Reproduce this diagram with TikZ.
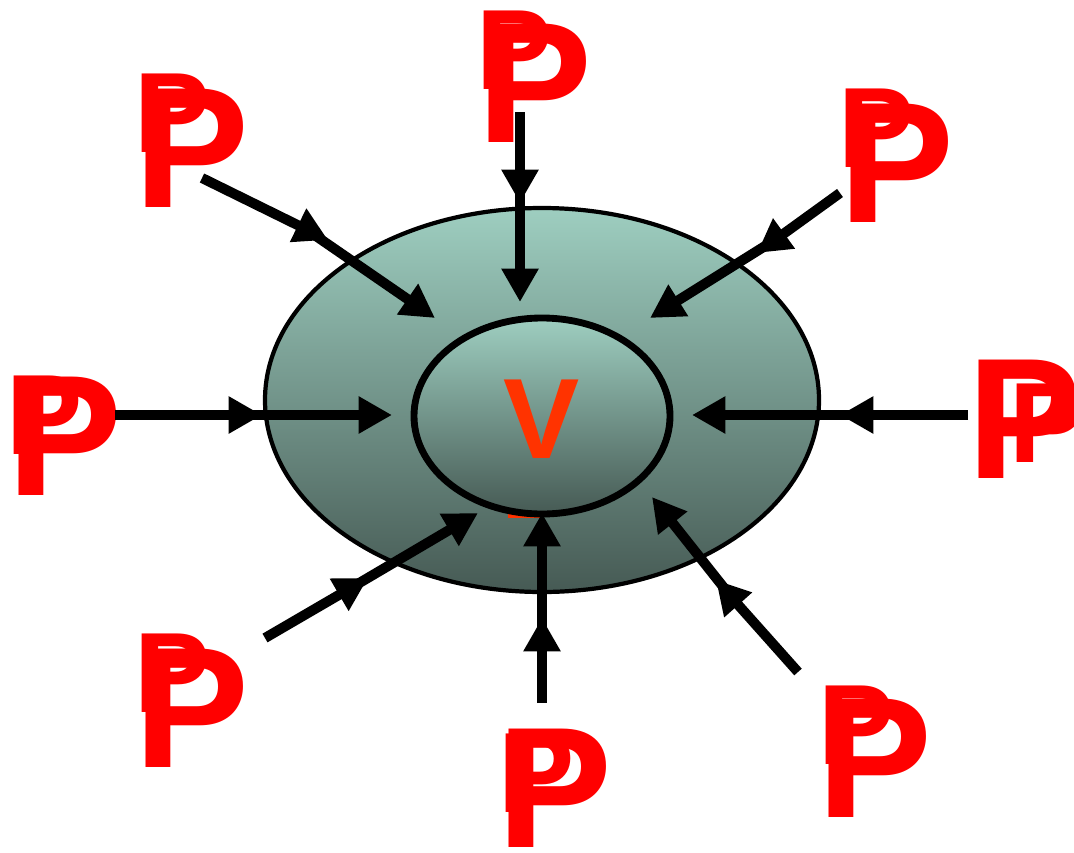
\documentclass[tikz,border=0pt]{standalone}
\usepackage{fontspec}
\setmainfont{Liberation Sans}
\usetikzlibrary{arrows.meta,calc}

\definecolor{tealtop}{RGB}{158,206,192}
\definecolor{tealbot}{RGB}{70,90,84}
\definecolor{pred}{RGB}{255,0,0}
\definecolor{vred}{RGB}{255,51,0}

\begin{document}
\begin{tikzpicture}[x=0.02cm, y=-0.02cm,
  force/.style={line width=5.7pt, -{Triangle[length=19pt,width=20pt]}},
  bigP/.style={anchor=base west, inner sep=0pt, text=pred, font=\fontsize{98}{98}\selectfont\bfseries},
  smallP/.style={anchor=base west, inner sep=0pt, text=pred, font=\fontsize{65}{65}\selectfont\bfseries}]

\useasboundingbox (0,0) rectangle (1074,852);

% outer volume
\shadedraw[top color=tealtop, bottom color=tealbot, draw=black, line width=2.4pt] (542,400) ellipse [x radius=277, y radius=192];

\fill[vred] (508,500) rectangle (541,518);

% inner volume
\shadedraw[top color=tealtop, bottom color=tealbot, draw=black, line width=3.9pt] (542,416) ellipse [x radius=128, y radius=98];
\node[anchor=base, inner sep=0pt, text=vred, font=\fontsize{65}{65}\selectfont\bfseries] (v) at (542,458) {V};

% pressure labels
\node[smallP] (ptls) at (134.6,152) {P};
\node[bigP] (ptl) at (134.4,207) {P};
\node[smallP] (pts) at (476.6,89) {P};
\node[bigP] (pt) at (477.4,142) {P};
\node[smallP] (ptrs) at (838.6,167) {P};
\node[bigP] (ptr) at (839.4,222) {P};
\node[smallP] (pls) at (6.6,454) {P};
\node[bigP] (pl) at (7.4,495) {P};
\node[smallP] (prs) at (1009.6,462) {P};
\node[bigP] (pr) at (967.4,478) {P};
\node[smallP] (pbls) at (134.6,712) {P};
\node[bigP] (pbl) at (134.4,767) {P};
\node[smallP] (pbs) at (498.6,812) {P};
\node[bigP] (pb) at (497.4,847) {P};
\node[smallP] (pbrs) at (818.6,764) {P};
\node[bigP] (pbr) at (817.4,817) {P};

% forces
\coordinate (st) at (520,112);  \coordinate (mt) at (520,203);  \coordinate (et) at (520,302);
\coordinate (stl) at (202,178); \coordinate (mtl) at (328,240); \coordinate (etl) at (435,318);
\coordinate (str) at (840,193); \coordinate (mtr) at (757,253); \coordinate (etr) at (650,318);
\coordinate (sl) at (115,415);  \coordinate (ml) at (262,415);  \coordinate (el) at (392,415);
\coordinate (sr) at (968,415);  \coordinate (mr) at (840,415);  \coordinate (er) at (692,415);
\coordinate (sbl) at (265,638); \coordinate (mbl) at (368,578); \coordinate (ebl) at (478,513);
\coordinate (sb) at (542,703);  \coordinate (mb) at (542,618);  \coordinate (eb) at (542,513);
\coordinate (sbr) at (798,672); \coordinate (mbr) at (716,580); \coordinate (ebr) at (652,497);

\foreach \k in {t,tl,tr,l,r,bl,b,br}
{
\draw[force] (s\k) -- (m\k);
\draw[force] ($(m\k)!14pt!(s\k)$) -- (e\k);
}

\end{tikzpicture}
\end{document}
